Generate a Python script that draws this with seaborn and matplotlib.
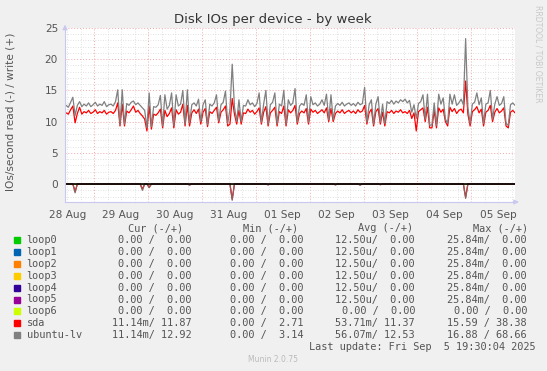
import numpy as np
import pandas as pd
import matplotlib
matplotlib.use("Agg")
import matplotlib.pyplot as plt
import seaborn as sns

# %% Data (hourly samples, Aug 28 11:30 -> Sep 5 19:30)
day_labels = ["28 Aug", "29 Aug", "30 Aug", "31 Aug", "01 Sep",
              "02 Sep", "03 Sep", "04 Sep", "05 Sep"]

sda_write = [
    11.4, 11.2, 11.9, 12.5, 9.8, 11.3, 12.3, 11.2, 11.6, 11.4, 11.8, 11.3, 11.5, 11.9, 11.3, 11.6, 11.4, 11.8, 11.2, 11.5,
    11.6, 11.3, 11.8, 13.0, 9.3, 12.8, 9.3, 11.7, 11.4, 11.9, 12.5, 11.5, 11.8, 11.3, 10.9, 10.4, 8.5, 12.5, 8.8, 11.2,
    11.0, 11.4, 12.0, 9.0, 11.8, 10.8, 11.3, 12.2, 9.0, 11.9, 11.2, 11.5, 12.8, 9.3, 12.6, 9.3, 11.4, 11.9, 11.3, 12.0,
    9.6, 11.5, 12.1, 9.2, 11.6, 11.3, 11.8, 12.3, 9.8, 11.5, 11.9, 12.5, 9.3, 9.6, 13.7, 11.2, 9.6, 11.8, 9.6, 11.4,
    11.3, 12.0, 11.5, 11.8, 11.2, 11.6, 12.2, 9.6, 11.5, 12.4, 9.3, 11.4, 11.8, 12.3, 9.3, 11.6, 11.3, 12.5, 9.3, 11.9,
    11.4, 11.8, 12.6, 9.6, 11.3, 11.7, 11.4, 12.1, 9.6, 12.0, 11.5, 11.8, 11.3, 11.6, 11.9, 11.4, 12.2, 10.0, 12.1, 10.0,
    11.3, 11.7, 11.4, 11.9, 11.3, 11.6, 11.8, 11.4, 11.7, 11.3, 11.9, 11.5, 11.7, 12.6, 9.6, 11.4, 12.0, 9.3, 11.6, 12.1,
    9.6, 11.5, 9.3, 11.6, 11.4, 11.8, 11.3, 11.7, 11.5, 11.9, 11.4, 11.6, 11.3, 11.8, 10.5, 11.4, 8.5, 11.6, 11.9, 12.2,
    10.0, 12.3, 9.0, 9.0, 11.8, 9.0, 12.2, 11.5, 12.0, 10.0, 9.3, 12.3, 11.6, 12.1, 11.3, 11.8, 12.0, 11.4, 16.5, 11.2,
    9.3, 11.6, 11.9, 12.4, 11.4, 12.0, 9.3, 11.5, 11.8, 12.6, 10.0, 11.5, 12.1, 11.4, 11.7, 12.2, 9.3, 9.0, 11.5, 11.8, 11.4,
]

lv_write = [
    12.6, 12.3, 13.1, 13.9, 11.0, 12.6, 13.2, 12.4, 12.8, 12.5, 13.0, 12.4, 12.7, 13.1, 12.5, 12.8, 12.6, 13.2, 12.4, 12.7,
    12.8, 12.5, 13.2, 15.1, 9.5, 15.1, 9.6, 12.9, 12.6, 13.1, 13.3, 12.7, 13.0, 12.6, 12.2, 11.8, 9.0, 14.6, 9.2, 12.4,
    12.3, 12.7, 14.2, 9.3, 14.3, 12.0, 12.6, 14.6, 9.4, 14.3, 12.5, 12.8, 15.0, 9.6, 15.1, 9.8, 12.7, 13.0, 12.5, 13.6,
    10.0, 12.7, 13.5, 9.5, 12.8, 12.5, 13.0, 14.3, 10.1, 12.7, 13.1, 14.9, 9.7, 12.0, 19.2, 12.4, 10.0, 13.5, 10.0, 12.6,
    12.5, 13.5, 12.7, 13.0, 12.4, 12.9, 14.6, 9.9, 12.8, 15.0, 9.6, 12.7, 13.1, 14.6, 9.6, 12.8, 12.5, 15.0, 9.6, 13.5,
    12.6, 13.0, 15.3, 9.9, 12.5, 12.9, 12.6, 14.3, 9.9, 14.0, 12.7, 13.0, 12.5, 12.8, 13.5, 12.6, 14.4, 10.3, 14.3, 10.3,
    12.5, 12.9, 12.6, 13.1, 12.5, 12.8, 13.0, 12.6, 12.9, 12.5, 13.1, 12.7, 12.9, 15.5, 9.9, 12.7, 13.5, 9.6, 12.8, 14.0,
    9.9, 12.8, 9.7, 13.2, 12.9, 13.4, 12.8, 13.3, 13.0, 13.5, 13.2, 13.6, 13.0, 13.4, 11.5, 12.7, 10.5, 12.9, 13.2, 14.3,
    10.4, 14.4, 9.4, 9.5, 13.0, 9.4, 14.4, 12.8, 13.8, 10.4, 9.7, 14.4, 12.8, 14.3, 12.6, 13.0, 13.6, 12.7, 23.3, 12.3,
    9.7, 12.8, 13.1, 14.6, 12.7, 13.8, 9.7, 12.8, 13.0, 15.0, 10.4, 12.8, 14.0, 12.6, 12.9, 14.0, 9.7, 9.4, 12.7, 13.0, 12.6,
]

# reads are drawn below zero (mostly ~0)
sda_read = [
    0, 0, 0, 0, 1.2, 0, 0, 0, 0, 0, 0, 0, 0, 0, 0, 0, 0, 0, 0, 0,
    0, 0, 0, 0, 0, 0, 0, 0, 0, 0, 0, 0, 0, 0, 0.8, 0, 0, 0.5, 0, 0,
    0, 0, 0, 0, 0, 0, 0, 0, 0, 0, 0, 0, 0, 0, 0, 0.1, 0, 0, 0, 0,
    0, 0, 0, 0, 0, 0, 0, 0, 0, 0, 0, 0, 0, 0, 2.4, 0, 0, 0, 0, 0,
    0, 0, 0, 0, 0, 0, 0, 0, 0, 0, 0.1, 0, 0, 0, 0, 0, 0, 0, 0, 0,
    0, 0, 0, 0, 0, 0, 0, 0, 0, 0, 0, 0, 0, 0, 0, 0, 0, 0, 0, 0,
    0.1, 0, 0, 0, 0, 0, 0, 0, 0, 0, 0, 0.1, 0, 0, 0, 0, 0, 0, 0, 0,
    0.1, 0, 0, 0, 0, 0, 0, 0, 0, 0, 0, 0, 0, 0, 0, 0, 0, 0, 0, 0,
    0, 0, 0, 0, 0, 0, 0, 0, 0, 0, 0, 0, 0, 0, 0, 0, 0, 0, 2.1, 0,
    0, 0, 0, 0, 0, 0, 0, 0, 0, 0, 0, 0, 0, 0, 0, 0, 0, 0, 0, 0, 0,
]

lv_read = [
    0, 0, 0, 0, 1.4, 0, 0, 0, 0, 0, 0, 0, 0, 0, 0, 0, 0, 0, 0, 0,
    0, 0, 0, 0, 0, 0, 0, 0, 0, 0, 0, 0, 0, 0, 1.0, 0, 0, 0.6, 0, 0,
    0, 0, 0, 0, 0, 0, 0, 0, 0, 0, 0, 0, 0, 0, 0, 0.2, 0, 0, 0, 0,
    0, 0, 0, 0, 0, 0, 0, 0, 0, 0, 0, 0, 0, 0, 2.6, 0, 0, 0, 0, 0,
    0, 0, 0, 0, 0, 0, 0, 0, 0, 0, 0.15, 0, 0, 0, 0, 0, 0, 0, 0, 0,
    0, 0, 0, 0, 0, 0, 0, 0, 0, 0, 0, 0, 0, 0, 0, 0, 0, 0, 0, 0,
    0.15, 0, 0, 0, 0, 0, 0, 0, 0, 0, 0, 0.2, 0, 0, 0, 0, 0, 0, 0, 0,
    0.1, 0, 0, 0, 0, 0, 0, 0, 0, 0, 0, 0, 0, 0, 0, 0, 0, 0, 0, 0,
    0, 0, 0, 0, 0, 0, 0, 0, 0, 0, 0, 0, 0, 0, 0, 0, 0, 0, 2.3, 0,
    0, 0, 0, 0, 0, 0, 0, 0, 0, 0, 0, 0, 0, 0, 0, 0, 0, 0, 0, 0, 0,
]

devices = ["loop0", "loop1", "loop2", "loop3", "loop4", "loop5", "loop6", "sda", "ubuntu-lv"]
colors = ["#00CC00", "#0066B3", "#FF8000", "#FFCC00", "#330099", "#990099", "#CCFF00", "#FF0000", "#808080"]
cur = ["0.00 /  0.00"] * 7 + ["11.14m/ 11.87", "11.14m/ 12.92"]
mins = ["0.00 /  0.00"] * 7 + ["0.00 /  2.71", "0.00 /  3.14"]
avgs = ["12.50u/  0.00"] * 6 + ["0.00 /  0.00", "53.71m/ 11.37", "56.07m/ 12.53"]
maxs = ["25.84m/  0.00"] * 6 + ["0.00 /  0.00", "15.59 / 38.38", "16.88 / 68.66"]

# %% Frame
hours = np.arange(11.5, 11.5 + len(sda_write), 1.0)
df = pd.DataFrame({
    "day": hours / 24.0,
    "sda_w": sda_write, "lv_w": lv_write,
    "sda_r": -np.array(sda_read, dtype=float), "lv_r": -np.array(lv_read, dtype=float),
})

# %% Plot
sns.set_style("white")
plt.rcParams["font.family"] = ["DejaVu Sans"]

fig = plt.figure(figsize=(5.47, 3.71), dpi=100, facecolor="#F0F0F0")
ax = fig.add_axes([65 / 547, 1 - 202 / 371, 450 / 547, 174 / 371])
ax.set_facecolor("white")

ax.set_xlim(df["day"].iloc[0] - 1 / 48, 211.5 / 24)
ax.set_ylim(-2.88, 25)

ax.set_xticks(np.arange(1, 9), minor=False)
ax.set_xticks(np.arange(0.5, 8.9, 0.25), minor=True)
ax.set_yticks(np.arange(0, 26, 5))
ax.set_yticks(np.arange(-2, 26, 1), minor=True)
ax.grid(which="minor", color="#D8D8D8", ls=(0, (1, 2)), lw=0.6)
ax.grid(which="major", color="#F2A8A8", ls=(0, (1, 2)), lw=0.7)
ax.set_axisbelow(True)
ax.set_xticklabels([])
ax.tick_params(axis="x", which="both", length=2, color="#C8C8C8")
ax.tick_params(axis="y", which="major", length=2, color="#C8C8C8", labelsize=7.6,
               labelcolor="#555555", pad=3)
ax.tick_params(axis="y", which="minor", length=0)
for i, lab in enumerate(day_labels):
    ax.text(i + 0.5, -0.045, lab, transform=ax.get_xaxis_transform(),
            ha="center", va="top", fontsize=7.6, color="#555555")

# loops (all ~0)
for c in colors[:7]:
    ax.axhline(0, color=c, lw=0.6)

sns.lineplot(data=df, x="day", y="sda_w", color="#FF0000", lw=0.9, ax=ax)
sns.lineplot(data=df, x="day", y="sda_r", color="#FF0000", lw=0.9, ax=ax)
sns.lineplot(data=df, x="day", y="lv_w", color="#808080", lw=0.9, ax=ax)
sns.lineplot(data=df, x="day", y="lv_r", color="#906060", lw=0.9, ax=ax)
ax.axhline(0, color="black", lw=1.2)
ax.set_xlabel("")
ax.set_ylabel("")

for s in ["top", "right"]:
    ax.spines[s].set_visible(False)
for s in ["left", "bottom"]:
    ax.spines[s].set_color("#C8C8F0")
    ax.spines[s].set_linewidth(0.8)
ax.annotate("", xy=(0, 1.035), xytext=(0, 0.98), xycoords="axes fraction",
            arrowprops=dict(arrowstyle="-|>", color="#C8C8F0", lw=0.8, mutation_scale=7))
ax.annotate("", xy=(1.015, 0), xytext=(0.99, 0), xycoords="axes fraction",
            arrowprops=dict(arrowstyle="-|>", color="#C8C8F0", lw=0.8, mutation_scale=7))

# %% Texts
fig.text(273 / 547, 1 - 19 / 371, "Disk IOs per device - by week", ha="center", va="center",
         fontsize=9.5, color="#333333")
fig.text(11 / 547, 1 - 112 / 371, "IOs/second read (-) / write (+)", rotation=90,
         ha="center", va="center", fontsize=7.6, color="#555555")
fig.text(538 / 547, 1 - 5 / 371, "RRDTOOL / TOBI OETIKER", rotation=270, ha="center", va="top",
         fontsize=5.5, color="#C8C8C8")

mono = dict(family="DejaVu Sans Mono", fontsize=7.4, color="#555555", va="center")
def fy(y):
    return 1 - y / 371

fig.text(128 / 547, fy(228), "Cur (-/+)", ha="left", **mono)
fig.text(243 / 547, fy(228), "Min (-/+)", ha="left", **mono)
fig.text(358 / 547, fy(228), "Avg (-/+)", ha="left", **mono)
fig.text(473 / 547, fy(228), "Max (-/+)", ha="left", **mono)
for k, name in enumerate(devices):
    y = 240 + k * 11.9
    fig.patches.append(plt.Rectangle((14 / 547, fy(y + 3)), 6 / 547, 6 / 371,
                                     transform=fig.transFigure, color=colors[k]))
    fig.text(26.5 / 547, fy(y), name, ha="left", **mono)
    fig.text(192 / 547, fy(y), cur[k], ha="right", **mono)
    fig.text(303 / 547, fy(y), mins[k], ha="right", **mono)
    fig.text(415 / 547, fy(y), avgs[k], ha="right", **mono)
    fig.text(527 / 547, fy(y), maxs[k], ha="right", **mono)
fig.text(422 / 547, fy(347.5), "Last update: Fri Sep  5 19:30:04 2025", ha="center", **mono)
fig.text(273 / 547, fy(360), "Munin 2.0.75", ha="center", va="center", fontsize=5.5, color="#BBBBBB")

fig.savefig("out.png", dpi=100, facecolor=fig.get_facecolor())
